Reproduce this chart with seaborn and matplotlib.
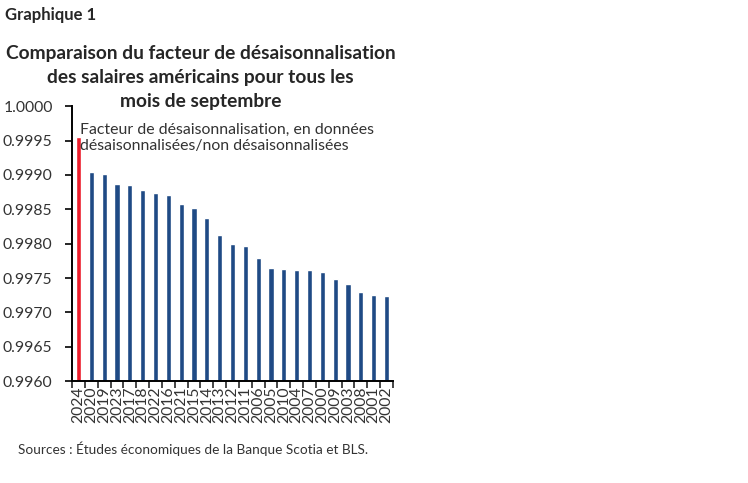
import seaborn as sns
import matplotlib.pyplot as plt
import pandas as pd

annees = ["2024", "2020", "2019", "2023", "2017", "2018", "2022", "2016", "2021",
          "2015", "2014", "2013", "2012", "2011", "2006", "2005", "2010", "2004",
          "2007", "2000", "2009", "2003", "2008", "2001", "2002"]
facteur = [0.99955, 0.99904, 0.99901, 0.99887, 0.99885, 0.99878, 0.99874, 0.99871,
           0.99858, 0.99852, 0.99837, 0.99812, 0.99799, 0.99796, 0.99779, 0.99765,
           0.99763, 0.99762, 0.99761, 0.99759, 0.99748, 0.99741, 0.99730, 0.99726,
           0.99724]
titre = ["Comparaison du facteur de désaisonnalisation",
         "des salaires américains pour tous les",
         "mois de septembre"]

df = pd.DataFrame({"annee": annees, "facteur": facteur})
couleurs = ["#ec1c2a"] + ["#1f4a85"] * (len(annees) - 1)

sns.set_style("white")
plt.rcParams["font.family"] = ["Lato", "DejaVu Sans"]

fig = plt.figure(figsize=(7.48, 4.83), dpi=100)
ax = fig.add_axes([0.0963, 0.211, 0.429, 0.569])

sns.barplot(data=df, x="annee", y="facteur", hue="annee", palette=couleurs,
            legend=False, width=0.4, saturation=1, ax=ax)

ax.set_ylim(0.9960, 1.0000)
ax.set_xlim(-0.45, 24.45)
ax.set_yticks([0.9960 + 0.0005 * i for i in range(9)])
ax.set_yticklabels([f"{0.9960 + 0.0005 * i:.4f}" for i in range(9)],
                   fontsize=11.3, color="#333333")
ax.set_xlabel("")
ax.set_ylabel("")

for s in ["top", "right"]:
    ax.spines[s].set_visible(False)
for s in ["left", "bottom"]:
    ax.spines[s].set_linewidth(1.4)
    ax.spines[s].set_color("black")

ax.tick_params(axis="y", direction="out", length=5, width=1.4, left=True, pad=9)
ax.tick_params(axis="x", which="major", length=0, pad=4, labelsize=11.3,
               labelrotation=90, labelcolor="#333333")
ax.set_xticks([i - 0.5 for i in range(len(annees) + 1)], minor=True)
ax.tick_params(axis="x", which="minor", direction="out", length=5, width=1.2, bottom=True)

ax.text(0.025, 0.94, "Facteur de désaisonnalisation, en données\ndésaisonnalisées/non désaisonnalisées",
        transform=ax.transAxes, fontsize=11.4, color="#333333", va="top", ha="left",
        linespacing=1.22)

fig.text(0.007, 0.968, "Graphique 1", fontsize=12, fontweight="bold", va="center")
for i, ligne in enumerate(titre):
    fig.text(0.268, 1 - (53 + 24 * i) / 483, ligne, fontsize=13.8,
             fontweight="bold", ha="center", va="center")
fig.text(0.024, 0.07, "Sources : Études économiques de la Banque Scotia et BLS.",
         fontsize=9.8, color="#333333", va="center")

fig.savefig("out.png", dpi=100)
